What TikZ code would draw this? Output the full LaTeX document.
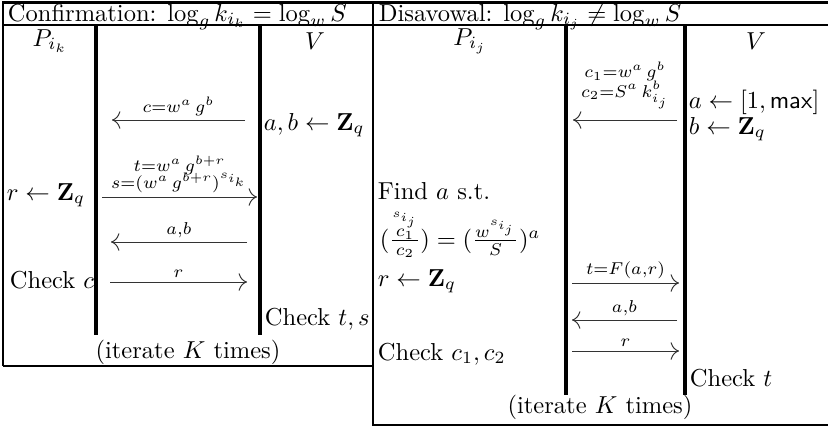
\documentclass[tikz,border=0pt]{standalone}
\usepackage{amsmath}
\usepackage{amssymb}
\usetikzlibrary{arrows.meta}

\begin{document}
\begin{tikzpicture}[x=0.408pt, y=-0.408pt, font=\normalsize,
  frame/.style={line width=1.1pt},
  divider/.style={line width=1.5pt},
  msg/.style={-{To[length=1.2mm]}, thin, black!80},
  lbl/.style={midway, above, font=\scriptsize, text=black, align=center, inner sep=1.5pt},
  cell/.style={anchor=base west, inner sep=1pt}]
\useasboundingbox (0,0) rectangle (828,427);

% table frames
\draw[frame] (3,366) -- (3,2.5) -- (828,2.5);
\draw[frame] (3,25) -- (828,25);
\draw[frame] (3,366) -- (373,366);
\draw[frame] (373,2.5) -- (373,425) -- (828,425);
\draw[divider] (96,25) -- (96,335);
\draw[divider] (260,25) -- (260,335);
\draw[divider] (566,25) -- (566,395);
\draw[divider] (685,25) -- (685,395);

% confirmation
\node[cell] (hdconf) at (5,21) {Confirmation: $\log_g k_{i_k} = \log_w S$};
\node (pik) at (50,41) {$P_{i_k}$};
\node (vconf) at (315,41) {$V$};
\node[cell] (abconf) at (261,130) {$a, b \leftarrow \mathbf{Z}_q$};
\node[cell] (rconf) at (4,200) {$r \leftarrow \mathbf{Z}_q$};
\node[cell] (chkc) at (7,288) {Check $c$};
\node[cell] (chkts) at (262,325) {Check $t, s$};
\node (itconf) at (188,352) {(iterate $K$ times)};

\coordinate (m1s) at (245,120);
\coordinate (m1e) at (112,120);
\coordinate (m2s) at (102,197);
\coordinate (m2e) at (257,197);
\coordinate (m3s) at (247,242);
\coordinate (m3e) at (111,242);
\coordinate (m4s) at (110,282);
\coordinate (m4e) at (247,282);
\draw[msg] (m1s) -- (m1e) node[lbl] {$c{=}w^a\,g^b$};
\draw[msg] (m2s) -- (m2e) node[lbl] {$t{=}w^a\,g^{b+r}$\\[-1pt] $s{=}(w^a\,g^{b+r})^{s_{i_k}}$};
\draw[msg] (m3s) -- (m3e) node[lbl] {$a{,}b$};
\draw[msg] (m4s) -- (m4e) node[lbl] {$r$};

% disavowal
\node[cell] (hddis) at (376,21) {Disavowal: $\log_g k_{i_j} \neq \log_w S$};
\node (pij) at (470,41) {$P_{i_j}$};
\node (vdis) at (756,41) {$V$};
\node[cell] (adis) at (686,108) {$a \leftarrow [1, \mathsf{max}]$};
\node[cell] (bdis) at (686,134) {$b \leftarrow \mathbf{Z}_q$};
\node[cell] (find) at (375,199) {Find $a$ s.t.};
\node[cell] (eqdis) at (377,247) {$(\frac{\overset{s_{i_j}}{c_1}}{c_2}) = (\frac{w^{s_{i_j}}}{S})^a$};
\node[cell] (rdis) at (375,286) {$r \leftarrow \mathbf{Z}_q$};
\node[cell] (chkcc) at (375,360) {Check $c_1, c_2$};
\node[cell] (chkt) at (687,386) {Check $t$};
\node (itdis) at (600,407) {(iterate $K$ times)};

\coordinate (n1s) at (677,120);
\coordinate (n1e) at (573,120);
\coordinate (n2s) at (572,283);
\coordinate (n2e) at (679,283);
\coordinate (n3s) at (677,320);
\coordinate (n3e) at (572,320);
\coordinate (n4s) at (572,351);
\coordinate (n4e) at (679,351);
\draw[msg] (n1s) -- (n1e) node[lbl, above=3pt] {$c_1{=}w^a\,g^b$\\[0pt] $c_2{=}S^a\,k_{i_j}^b$};
\draw[msg] (n2s) -- (n2e) node[lbl] {$t{=}F(a{,}r)$};
\draw[msg] (n3s) -- (n3e) node[lbl] {$a{,}b$};
\draw[msg] (n4s) -- (n4e) node[lbl] {$r$};
\end{tikzpicture}
\end{document}
